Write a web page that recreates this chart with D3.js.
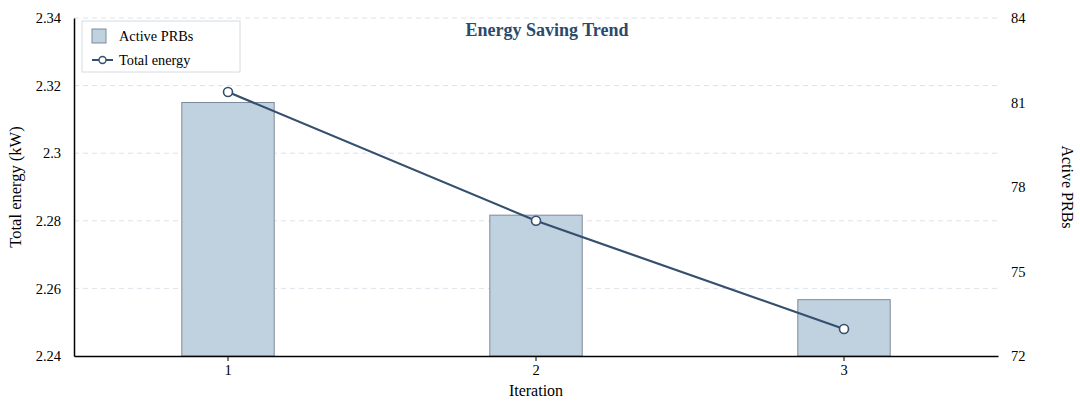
<!DOCTYPE html>
<html>
<head>
<meta charset="utf-8">
<script src="https://cdn.jsdelivr.net/npm/d3@7"></script>
<style>
  body { margin: 0; background: #fff; }
  text { font-family: "Liberation Serif", "Times New Roman", serif; }
</style>
</head>
<body>
<svg id="chart" width="1080" height="402"></svg>
<script>
const iterations = [1, 2, 3];
const activePrbs = [81, 77, 74];
const totalEnergy = [2.3181, 2.28, 2.248];
const energyTicks = [2.24, 2.26, 2.28, 2.3, 2.32, 2.34];
const prbTicks = [72, 75, 78, 81, 84];

const svg = d3.select('#chart');
const m = {left: 74, right: 82, top: 18, bottom: 46};
const W = 1080, H = 402;
const x0 = m.left, x1 = W - m.right, y0 = H - m.bottom, y1 = m.top;

const x = d3.scaleBand().domain(iterations).range([x0, x1]).paddingInner(0).paddingOuter(0);
const yL = d3.scaleLinear().domain([2.24, 2.34]).range([y0, y1]);
const yR = d3.scaleLinear().domain([72, 84]).range([y0, y1]);
const cx = d => x(d) + x.bandwidth() / 2;

// grid
svg.append('g').selectAll('line').data(energyTicks.slice(1)).join('line')
    .attr('x1', x0).attr('x2', x1)
    .attr('y1', d => yL(d)).attr('y2', d => yL(d))
    .attr('stroke', '#dde3ea').attr('stroke-dasharray', '5,4').attr('stroke-width', 1);

// bars
const bw = x.bandwidth() * 0.3;
svg.append('g').selectAll('rect').data(iterations).join('rect')
    .attr('x', d => cx(d) - bw / 2)
    .attr('y', (d, i) => yR(activePrbs[i]))
    .attr('width', bw)
    .attr('height', (d, i) => y0 - yR(activePrbs[i]))
    .attr('fill', '#c0d1df').attr('stroke', '#7c8b9c').attr('stroke-width', 1);

// axes
const axL = svg.append('g').attr('transform', `translate(${x0},0)`)
    .call(d3.axisLeft(yL).tickValues(energyTicks).tickSize(0).tickPadding(13).tickFormat(d3.format('')));
axL.select('.domain').attr('stroke', '#000').attr('stroke-width', 1.5);

const axR = svg.append('g').attr('transform', `translate(${x1},0)`)
    .call(d3.axisRight(yR).tickValues(prbTicks).tickSize(0).tickPadding(13));
axR.select('.domain').remove();

const axB = svg.append('g').attr('transform', `translate(0,${y0})`)
    .call(d3.axisBottom(x).tickSize(5).tickPadding(4).tickSizeOuter(0));
axB.select('.domain').attr('stroke', '#000').attr('stroke-width', 1.5);

svg.selectAll('.tick text').attr('font-size', 14.5).attr('fill', '#000')
    .style('font-family', '"Liberation Serif", serif');

// line
const line = d3.line().x((d, i) => cx(iterations[i])).y(d => yL(d));
svg.append('path').datum(totalEnergy).attr('d', line)
    .attr('fill', 'none').attr('stroke', '#34506e').attr('stroke-width', 2.2);
svg.append('g').selectAll('circle').data(totalEnergy).join('circle')
    .attr('cx', (d, i) => cx(iterations[i])).attr('cy', d => yL(d)).attr('r', 4.5)
    .attr('fill', '#fff').attr('stroke', '#34506e').attr('stroke-width', 1.6);

// labels
svg.append('text').attr('x', (x0 + x1) / 2).attr('y', 396).attr('text-anchor', 'middle')
    .attr('font-size', 16).text('Iteration');
svg.append('text').attr('transform', `translate(21,${(y0 + y1) / 2}) rotate(-90)`)
    .attr('text-anchor', 'middle').attr('font-size', 16.5).text('Total energy (kW)');
svg.append('text').attr('transform', `translate(1062,${(y0 + y1) / 2}) rotate(90)`)
    .attr('text-anchor', 'middle').attr('font-size', 16).text('Active PRBs');
svg.append('text').attr('x', 547).attr('y', 36).attr('text-anchor', 'middle')
    .attr('font-size', 18).attr('font-weight', 'bold').attr('fill', '#2b4a6c')
    .text('Energy Saving Trend');

// legend
const lg = svg.append('g').attr('transform', 'translate(82,21)');
lg.append('rect').attr('width', 158).attr('height', 51)
    .attr('fill', '#fff').attr('stroke', '#d6dbe1').attr('stroke-width', 1);
lg.append('rect').attr('x', 10).attr('y', 8).attr('width', 14).attr('height', 14)
    .attr('fill', '#c0d1df').attr('stroke', '#7c8b9c');
lg.append('text').attr('x', 37).attr('y', 20).attr('font-size', 14.3).text('Active PRBs');
lg.append('line').attr('x1', 10).attr('x2', 31).attr('y1', 39).attr('y2', 39)
    .attr('stroke', '#34506e').attr('stroke-width', 2);
lg.append('circle').attr('cx', 20.5).attr('cy', 39).attr('r', 3.5)
    .attr('fill', '#fff').attr('stroke', '#34506e').attr('stroke-width', 1.4);
lg.append('text').attr('x', 37).attr('y', 44).attr('font-size', 14.3).text('Total energy');
</script>
</body>
</html>
